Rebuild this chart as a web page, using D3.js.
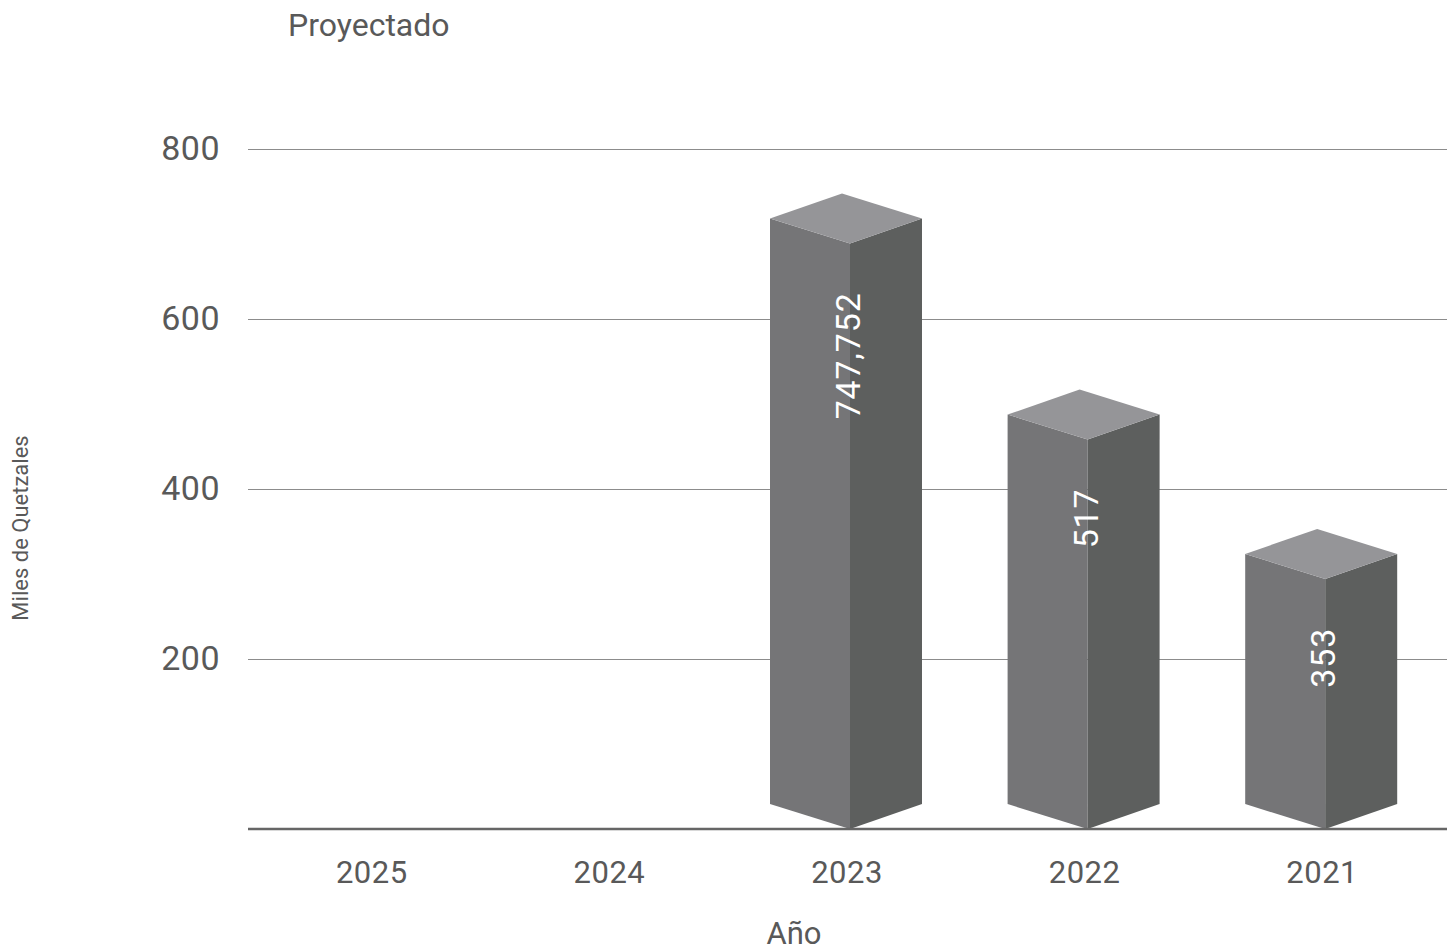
<!DOCTYPE html>
<html lang="es">
  <head>
    <meta charset="utf-8"/>
    <script src="https://d3js.org/d3.v7.min.js"></script>
    <title>Proyectado</title>
  </head>
  <body>
    <div id="chart_div">
      <svg id="chart"></svg>
    </div>
  </body>
</html>

<style>
  body { margin: 0; background: #fff; }
  #chart { display: block; font-family: Roboto, "Noto Sans", sans-serif; }
</style>

<script>
  const width = 1453;
  const height = 952;
  const margin = {top: 149, right: 6, bottom: 123, left: 248};

  // datos
  const years = ["2025", "2024", "2023", "2022", "2021"];
  const values = [null, null, 747.752, 517, 353];
  const valueLabels = ["", "", "747,752", "517", "353"];
  const yTicks = [200, 400, 600, 800];

  const textColor = "#595959";
  const frontW = 80, sideW = 72, rise = 25;

  const svg = d3.select("#chart")
    .attr("width", width)
    .attr("height", height);

  const xScale = d3.scaleBand()
    .domain(years)
    .range([252, 1440]);

  const yScale = d3.scaleLinear()
    .domain([0, 800])
    .range([height - margin.bottom, margin.top]);

  const y0 = yScale(0);

  // rejilla + eje y
  const yAxis = svg.append("g")
    .attr("transform", "translate(" + margin.left + ",0)")
    .call(d3.axisLeft(yScale)
      .tickValues(yTicks)
      .tickSize(-(width - margin.right - margin.left))
      .tickPadding(28));
  yAxis.select(".domain").remove();
  yAxis.selectAll(".tick line")
    .attr("stroke", "#8c8c8c")
    .attr("stroke-width", 1);
  yAxis.selectAll(".tick text")
    .attr("fill", textColor)
    .style("font-size", "34px")
    .style("letter-spacing", "0.5px")
    .style("font-family", "Roboto, sans-serif");

  // barras 3D
  const bars = svg.append("g")
    .selectAll(".bar")
    .data(years.map((d, i) => ({year: d, value: values[i], label: valueLabels[i]}))
      .filter((d) => d.value != null))
    .enter()
    .append("g")
    .attr("class", "bar");

  const pts = (arr) => arr.map((p) => p.join(",")).join(" ");
  const left = (d) => xScale(d.year) + xScale.bandwidth() / 2 - (frontW + sideW) / 2;

  bars.append("polygon")
    .attr("fill", "#757577")
    .attr("points", (d) => {
      const L = left(d), yv = yScale(d.value);
      return pts([[L, yv + rise], [L + frontW, yv + 2 * rise], [L + frontW, y0], [L, y0 - rise]]);
    });

  bars.append("polygon")
    .attr("fill", "#5d5f5e")
    .attr("points", (d) => {
      const L = left(d), yv = yScale(d.value);
      return pts([[L + frontW, yv + 2 * rise], [L + frontW + sideW, yv + rise],
                  [L + frontW + sideW, y0 - rise], [L + frontW, y0]]);
    });

  bars.append("polygon")
    .attr("fill", "#959598")
    .attr("points", (d) => {
      const L = left(d), yv = yScale(d.value);
      return pts([[L, yv + rise], [L + sideW, yv], [L + frontW + sideW, yv + rise], [L + frontW, yv + 2 * rise]]);
    });

  bars.append("text")
    .attr("transform", (d) =>
      "translate(" + (left(d) + frontW + 10) + "," + (yScale(d.value) + 99) + ") rotate(-90)")
    .attr("text-anchor", "end")
    .attr("fill", "#ffffff")
    .style("font-size", "34px")
    .style("letter-spacing", "0.8px")
    .text((d) => d.label);

  // línea base
  svg.append("line")
    .attr("x1", margin.left)
    .attr("x2", width - margin.right)
    .attr("y1", y0)
    .attr("y2", y0)
    .attr("stroke", "#666666")
    .attr("stroke-width", 2.5);

  // eje x
  svg.append("g")
    .selectAll("text")
    .data(years)
    .enter()
    .append("text")
    .attr("x", (d) => xScale(d) + xScale.bandwidth() / 2 + 1)
    .attr("y", y0 + 54)
    .attr("text-anchor", "middle")
    .attr("fill", textColor)
    .style("font-size", "31px")
    .style("letter-spacing", "0.5px")
    .text((d) => d);

  // títulos
  svg.append("text")
    .attr("x", 288)
    .attr("y", 36)
    .attr("fill", textColor)
    .style("font-size", "32px")
    .text("Proyectado");

  svg.append("text")
    .attr("x", 794)
    .attr("y", 944)
    .attr("text-anchor", "middle")
    .attr("fill", textColor)
    .style("font-size", "31px")
    .text("Año");

  svg.append("text")
    .attr("transform", "translate(28,528) rotate(-90)")
    .attr("text-anchor", "middle")
    .attr("fill", textColor)
    .style("font-size", "22px")
    .text("Miles de Quetzales");
</script>
